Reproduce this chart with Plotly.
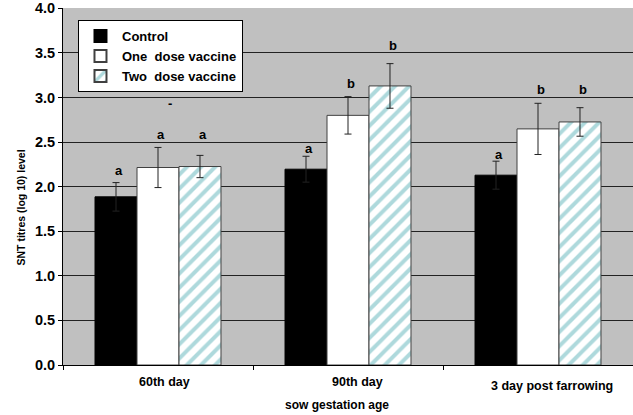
import plotly.graph_objects as go

# ---- data ----
categories = ["60th day", "90th day", "3 day post farrowing"]
series_names = ["Control", "One  dose vaccine", "Two  dose vaccine"]

control_vals = [1.886, 2.196, 2.129]
control_err = [0.160, 0.145, 0.157]
one_dose_vals = [2.215, 2.800, 2.648]
one_dose_err = [0.225, 0.210, 0.287]
two_dose_vals = [2.226, 3.130, 2.726]
two_dose_err = [0.125, 0.250, 0.160]

# significance letters and the heights at which they are printed
control_sig = ["a", "a", "a"]
control_sig_y = [2.185, 2.431, 2.364]
one_dose_sig = ["a", "b", "b"]
one_dose_sig_y = [2.588, 3.160, 3.092]
two_dose_sig = ["a", "b", "b"]
two_dose_sig_y = [2.588, 3.585, 3.092]
dash_mark = "-"
dash_y = 2.936

y_ticks = [0.0, 0.5, 1.0, 1.5, 2.0, 2.5, 3.0, 3.5, 4.0]
y_title = "SNT titres (log 10) level"
x_title = "sow gestation age"

# ---- styling ----
FONT = "Arial, 'Liberation Sans', Helvetica, sans-serif"
BARGAP = 0.337
n_series = 3
bar_w = (1 - BARGAP) / n_series
offsets = [-bar_w, 0.0, bar_w]
xs = list(range(len(categories)))

fig = go.Figure()

err_style = dict(type="data", thickness=1, width=3.5, color="#222222", visible=True)

fig.add_trace(go.Bar(
    x=xs, y=control_vals, name="<b>%s</b>" % series_names[0],
    marker=dict(color="black", line=dict(color="black", width=1)),
    error_y=dict(array=control_err, **err_style),
))
fig.add_trace(go.Bar(
    x=xs, y=one_dose_vals, name="<b>%s</b>" % series_names[1],
    marker=dict(color="white", line=dict(color="#404040", width=1)),
    error_y=dict(array=one_dose_err, **err_style),
))
fig.add_trace(go.Bar(
    x=xs, y=two_dose_vals, name="<b>%s</b>" % series_names[2],
    marker=dict(color="white", line=dict(color="#404040", width=1),
                pattern=dict(shape="/", fgcolor="#aed9dc", bgcolor="white",
                             size=10, solidity=0.4, fillmode="replace")),
    error_y=dict(array=two_dose_err, **err_style),
))

annotations = []
bold = dict(family=FONT, size=13, color="black")
for k, (sig, sig_y) in enumerate([(control_sig, control_sig_y),
                                  (one_dose_sig, one_dose_sig_y),
                                  (two_dose_sig, two_dose_sig_y)]):
    for i in xs:
        annotations.append(dict(x=i + offsets[k], y=sig_y[i], xref="x", yref="y",
                                text="<b>%s</b>" % sig[i], showarrow=False,
                                xshift=3, font=bold, yanchor="middle"))
annotations.append(dict(x=0, y=dash_y, xref="x", yref="y", text="<b>%s</b>" % dash_mark,
                        showarrow=False, xshift=12, font=bold, yanchor="middle"))

# category labels below the axis
cat_xshift = [6, 9, 14]
cat_yshift = [-17, -17, -21]
for i, c in enumerate(categories):
    annotations.append(dict(x=i, y=0, xref="x", yref="paper", text="<b>%s</b>" % c,
                            showarrow=False, xshift=cat_xshift[i], yshift=cat_yshift[i],
                            font=dict(family=FONT, size=12.5, color="black"),
                            yanchor="middle"))
# axis titles
annotations.append(dict(x=0.5, y=0, xref="paper", yref="paper", text="<b>%s</b>" % x_title,
                        showarrow=False, xshift=-11, yshift=-40,
                        font=dict(family=FONT, size=12, color="black"), yanchor="middle"))
annotations.append(dict(x=0, y=0.5, xref="paper", yref="paper", text="<b>%s</b>" % y_title,
                        showarrow=False, xshift=-43, yshift=-21, textangle=-90,
                        font=dict(family=FONT, size=10.5, color="black"),
                        xanchor="center", yanchor="middle"))

fig.update_layout(
    width=633, height=415,
    margin=dict(l=63, r=0, t=8, b=50),
    paper_bgcolor="white", plot_bgcolor="#c0c0c0",
    barmode="group", bargap=BARGAP, bargroupgap=0,
    font=dict(family=FONT, color="black"),
    showlegend=True,
    legend=dict(x=0.0263, y=0.966, xanchor="left", yanchor="top",
                bgcolor="white", bordercolor="black", borderwidth=1,
                font=dict(family=FONT, size=13, color="black"),
                tracegroupgap=0, itemsizing="constant", itemwidth=33,
                entrywidth=150, entrywidthmode="pixels"),
    annotations=annotations,
    xaxis=dict(range=[-0.5, 2.5], tickvals=[-0.5, 0.5, 1.5, 2.5], ticktext=["", "", "", ""],
               ticks="outside", ticklen=4, tickcolor="black", showgrid=False,
               showline=True, linecolor="black", linewidth=1, zeroline=False, fixedrange=True),
    yaxis=dict(range=[0, 4.004], tickvals=y_ticks, ticktext=["<b>%.1f</b>" % v for v in y_ticks],
               ticks="outside", ticklen=4, tickcolor="black",
               tickfont=dict(family=FONT, size=14.5, color="black"),
               showgrid=True, gridcolor="#222222", gridwidth=1,
               showline=True, linecolor="black", linewidth=1, zeroline=False, fixedrange=True),
)

# remove the browser's default 8px page margin so the figure fills the window
fig.write_html("out.html",
               config={"displayModeBar": False, "staticPlot": True},
               post_script="document.body.style.margin='0';document.body.style.overflow='hidden';")
